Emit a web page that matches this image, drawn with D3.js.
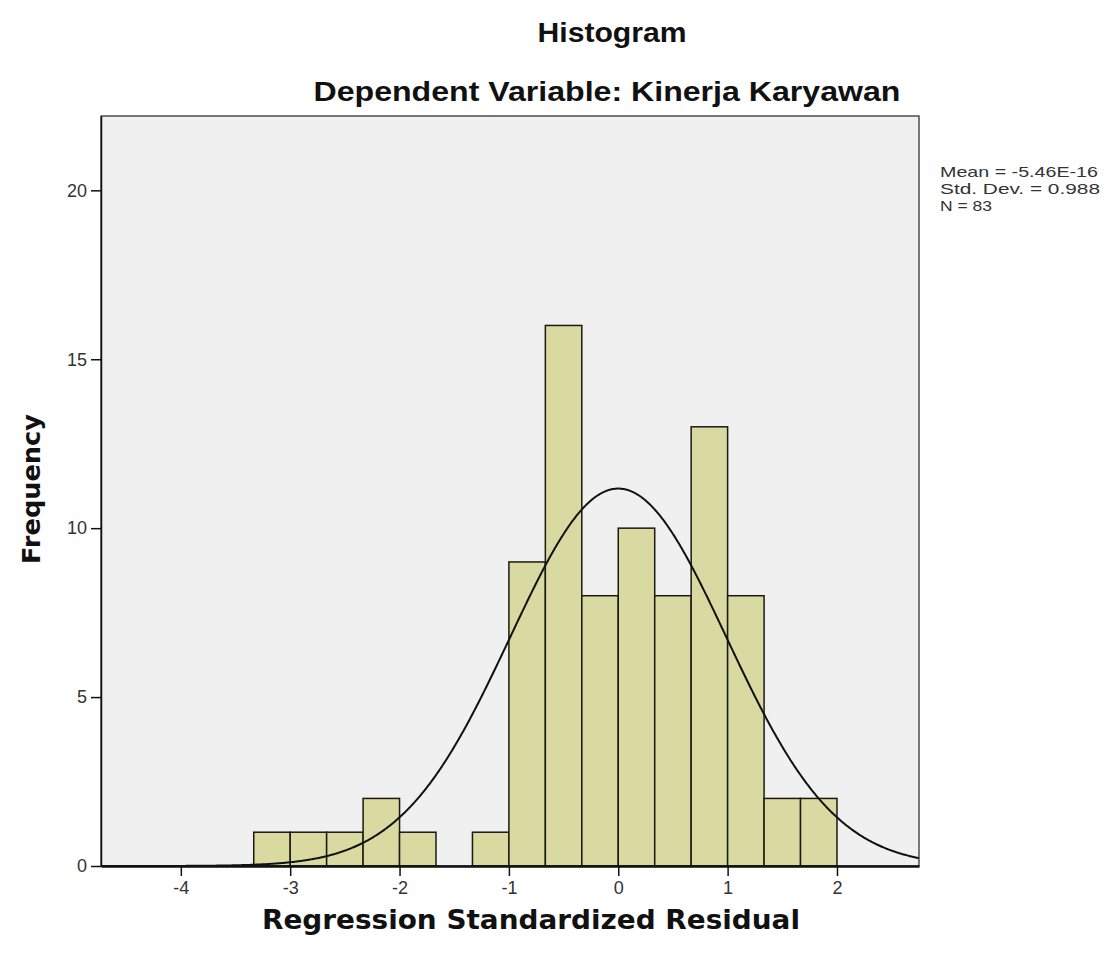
<!DOCTYPE html>
<html>
<head>
<meta charset="utf-8">
<script src="https://cdn.jsdelivr.net/npm/d3@7"></script>
<style>
  html, body { margin: 0; padding: 0; background: #ffffff; }
  svg { display: block; }
</style>
</head>
<body>
<svg id="chart" width="1117" height="962"></svg>
<script>
// ---- Data ----
const binStarts = [-10/3, -9/3, -8/3, -7/3, -6/3, -5/3, -4/3, -3/3, -2/3, -1/3, 0, 1/3, 2/3, 3/3, 4/3, 5/3];
const frequencies = [1, 1, 1, 2, 1, 0, 1, 9, 16, 8, 10, 8, 13, 8, 2, 2];
const binWidth = 1/3;
const xTicks = [-4, -3, -2, -1, 0, 1, 2];
const yTicks = [0, 5, 10, 15, 20];
const stats = ["Mean = -5.46E-16", "Std. Dev. = 0.988", "N = 83"];
const meanVal = 0;
const sdVal = 0.988;
const nVal = 83;

// ---- Layout ----
const svg = d3.select("#chart");
const plot = { left: 101, top: 116, right: 919, bottom: 866 };

const x = d3.scaleLinear().domain([-4.73, 2.75]).range([plot.left, plot.right]);
const y = d3.scaleLinear().domain([0, 22.2]).range([plot.bottom, plot.top]);

// plot background
svg.append("rect")
  .attr("x", plot.left).attr("y", plot.top)
  .attr("width", plot.right - plot.left).attr("height", plot.bottom - plot.top)
  .attr("fill", "#f0f0f0");

const defs = svg.append("defs");
defs.append("clipPath").attr("id", "clip")
  .append("rect")
  .attr("x", plot.left).attr("y", plot.top)
  .attr("width", plot.right - plot.left).attr("height", plot.bottom - plot.top);

// bars
const bins = binStarts.map((s, i) => ({ x0: s, x1: s + binWidth, n: frequencies[i] }));
svg.append("g").selectAll("rect")
  .data(bins.filter(d => d.n > 0))
  .join("rect")
  .attr("x", d => x(d.x0))
  .attr("y", d => y(d.n))
  .attr("width", d => x(d.x1) - x(d.x0))
  .attr("height", d => y(0) - y(d.n))
  .attr("fill", "#d9daa2")
  .attr("stroke", "#1a1a10")
  .attr("stroke-width", 1.5);

// normal curve
const pdf = v => Math.exp(-0.5 * Math.pow((v - meanVal) / sdVal, 2)) / (sdVal * Math.sqrt(2 * Math.PI));
const xs = d3.range(x.domain()[0], x.domain()[1] + 0.001, 0.01);
svg.append("path")
  .datum(xs)
  .attr("clip-path", "url(#clip)")
  .attr("fill", "none")
  .attr("stroke", "#111")
  .attr("stroke-width", 2)
  .attr("d", d3.line().x(v => x(v)).y(v => y(nVal * binWidth * pdf(v))));

// frame
svg.append("rect")
  .attr("x", plot.left).attr("y", plot.top)
  .attr("width", plot.right - plot.left).attr("height", plot.bottom - plot.top)
  .attr("fill", "none").attr("stroke", "#222").attr("stroke-width", 1.2);

// axes
const fmt = d => String(d);
const xAxis = d3.axisBottom(x).tickValues(xTicks).tickSize(10).tickSizeOuter(0).tickPadding(5).tickFormat(fmt);
const gx = svg.append("g").attr("transform", `translate(0,${plot.bottom})`).call(xAxis);
gx.select(".domain").attr("stroke", "#111").attr("stroke-width", 2.5);
gx.selectAll(".tick line").attr("stroke", "#111").attr("stroke-width", 1.5);
gx.selectAll(".tick text").attr("font-family", "Liberation Sans, Arial, sans-serif")
  .attr("font-size", 18).attr("fill", "#333");

const yAxis = d3.axisLeft(y).tickValues(yTicks).tickSize(10).tickSizeOuter(0).tickPadding(4).tickFormat(fmt);
const gy = svg.append("g").attr("transform", `translate(${plot.left},0)`).call(yAxis);
gy.select(".domain").attr("stroke", "#111").attr("stroke-width", 1.5);
gy.selectAll(".tick line").attr("stroke", "#111").attr("stroke-width", 1.5);
gy.selectAll(".tick text").attr("font-family", "Liberation Sans, Arial, sans-serif")
  .attr("font-size", 18).attr("fill", "#333");

// titles
svg.append("text")
  .attr("x", 612).attr("y", 42)
  .attr("text-anchor", "middle")
  .attr("font-family", "Liberation Sans, Arial, sans-serif")
  .attr("font-weight", "bold").attr("font-size", 27).attr("fill", "#111")
  .attr("textLength", 149).attr("lengthAdjust", "spacingAndGlyphs")
  .text("Histogram");
svg.append("text")
  .attr("x", 607).attr("y", 101)
  .attr("text-anchor", "middle")
  .attr("font-family", "Liberation Sans, Arial, sans-serif")
  .attr("font-weight", "bold").attr("font-size", 27).attr("fill", "#111")
  .attr("textLength", 587).attr("lengthAdjust", "spacingAndGlyphs")
  .text("Dependent Variable: Kinerja Karyawan");

// axis titles
svg.append("text")
  .attr("x", 531).attr("y", 929)
  .attr("text-anchor", "middle")
  .attr("font-family", "DejaVu Sans, Verdana, sans-serif")
  .attr("font-weight", "bold").attr("font-size", 26).attr("fill", "#111")
  .attr("textLength", 538).attr("lengthAdjust", "spacingAndGlyphs")
  .text("Regression Standardized Residual");
svg.append("text")
  .attr("transform", "translate(40,489) rotate(-90)")
  .attr("text-anchor", "middle")
  .attr("font-family", "DejaVu Sans, Verdana, sans-serif")
  .attr("font-weight", "bold").attr("font-size", 25).attr("fill", "#111")
  .attr("textLength", 150).attr("lengthAdjust", "spacingAndGlyphs")
  .text("Frequency");

// stats legend
const statLen = [158, 160, 52];
svg.append("g").selectAll("text")
  .data(stats)
  .join("text")
  .attr("x", 940)
  .attr("y", (d, i) => 177 + i * 17)
  .attr("font-family", "Liberation Sans, Arial, sans-serif")
  .attr("font-size", 15).attr("fill", "#333")
  .attr("textLength", (d, i) => statLen[i]).attr("lengthAdjust", "spacingAndGlyphs")
  .text(d => d);
</script>
</body>
</html>
